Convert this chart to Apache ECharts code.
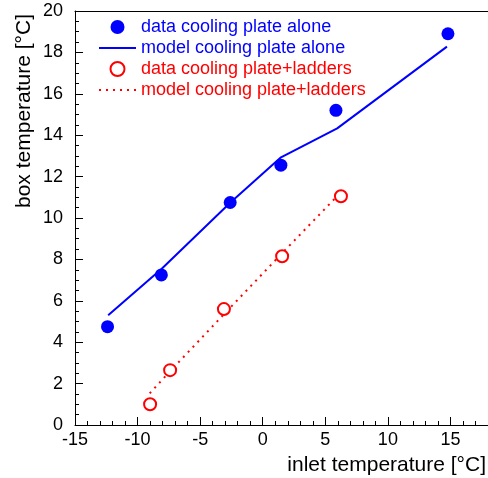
<!DOCTYPE html>
<html>
<head>
<meta charset="utf-8">
<style>
  html, body { margin: 0; padding: 0; background: #fff; }
  #chart { width: 488px; height: 478px; }
</style>
<script src="https://cdn.jsdelivr.net/npm/echarts@6/dist/echarts.min.js"></script>
</head>
<body>
<div id="chart"></div>
<script>
// Measured box temperature versus coolant inlet temperature
const plateAloneInlet = [-12.4, -8.1, -2.6, 1.45, 5.85, 14.8];
const plateAloneData  = [4.75, 7.25, 10.75, 12.55, 15.2, 18.9];
const plateAloneModelInlet = [-12.35, -8.07, -2.58, 1.46, 5.95, 14.72];
const plateAloneModel = [5.3, 7.55, 10.75, 12.93, 14.33, 18.28];

const laddersInlet = [-9.0, -7.4, -3.1, 1.55, 6.25];
const laddersData  = [1.0, 2.65, 5.6, 8.15, 11.05];
const laddersModelInlet = [-9.03, -7.4, -3.1, 1.55, 6.18];
const laddersModel = [1.53, 2.6, 5.35, 8.3, 11.2];

const seriesNames = [
  'data cooling plate alone',
  'model cooling plate alone',
  'data cooling plate+ladders',
  'model cooling plate+ladders'
];
const xTitle = 'inlet temperature [°C]';
const yTitle = 'box temperature [°C]';

const BLUE = '#0000ff';
const RED = '#ff0000';
const FONT = 'Liberation Sans, Arial, sans-serif';

const pairs = (xs, ys) => xs.map((x, i) => [x, ys[i]]);

const chart = echarts.init(document.getElementById('chart'), null, { renderer: 'canvas' });

chart.setOption({
  animation: false,
  backgroundColor: '#fff',
  grid: { left: 75, top: 11, right: -2, bottom: 53 },
  legend: {
    orient: 'vertical',
    left: 98,
    top: 18,
    padding: 0,
    itemWidth: 37,
    itemHeight: 14,
    itemGap: 3,
    textStyle: { fontFamily: FONT, fontSize: 18, lineHeight: 18 },
    data: [
      { name: seriesNames[0], textStyle: { color: BLUE } },
      // model entries show only the line sample
      { name: seriesNames[1], textStyle: { color: BLUE }, itemStyle: { opacity: 0 } },
      { name: seriesNames[2], textStyle: { color: RED } },
      { name: seriesNames[3], textStyle: { color: RED }, itemStyle: { opacity: 0 } }
    ]
  },
  xAxis: [
    {
      type: 'value',
      min: -15,
      max: 18,
      interval: 5,
      axisLine: { show: true, onZero: false, lineStyle: { color: '#000', width: 1 } },
      axisTick: { show: true, inside: true, length: 8, lineStyle: { color: '#000' } },
      minorTick: { show: true, splitNumber: 5, length: 4, lineStyle: { color: '#000' } },
      splitLine: { show: false },
      axisLabel: {
        margin: 6, color: '#000', fontFamily: FONT, fontSize: 18,
        showMaxLabel: false
      }
    },
    {
      type: 'value',
      position: 'top',
      min: -15,
      max: 18,
      axisLine: { show: true, onZero: false, lineStyle: { color: '#000', width: 1 } },
      axisTick: { show: false },
      axisLabel: { show: false },
      splitLine: { show: false }
    }
  ],
  yAxis: {
    type: 'value',
    min: 0,
    max: 20,
    interval: 2,
    axisLine: { show: true, onZero: false, lineStyle: { color: '#000', width: 1 } },
    axisTick: { show: true, inside: true, length: 8, lineStyle: { color: '#000' } },
    minorTick: { show: true, splitNumber: 4, length: 4, lineStyle: { color: '#000' } },
    splitLine: { show: false },
    axisLabel: { margin: 12, color: '#000', fontFamily: FONT, fontSize: 18 }
  },
  graphic: [
    {
      type: 'text',
      right: 2,
      top: 455,
      style: { text: xTitle, fill: '#000', font: '21px ' + FONT }
    },
    {
      type: 'text',
      x: 24,
      y: 14,
      rotation: Math.PI / 2,
      style: {
        text: yTitle, fill: '#000', font: '21px ' + FONT,
        align: 'right', verticalAlign: 'middle'
      }
    }
  ],
  series: [
    {
      name: seriesNames[0],
      type: 'scatter',
      symbol: 'circle',
      symbolSize: 13,
      itemStyle: { color: BLUE, opacity: 1 },
      data: pairs(plateAloneInlet, plateAloneData),
      z: 3
    },
    {
      name: seriesNames[1],
      type: 'line',
      symbol: 'none',
      lineStyle: { color: BLUE, width: 2 },
      itemStyle: { color: BLUE },
      data: pairs(plateAloneModelInlet, plateAloneModel),
      z: 2
    },
    {
      name: seriesNames[2],
      type: 'scatter',
      symbol: 'emptyCircle',
      symbolSize: 12,
      itemStyle: { color: RED, borderColor: RED, borderWidth: 1.6, opacity: 1 },
      data: pairs(laddersInlet, laddersData),
      z: 3
    },
    {
      name: seriesNames[3],
      type: 'line',
      symbol: 'none',
      lineStyle: { color: RED, width: 2, type: [2, 5] },
      itemStyle: { color: RED },
      data: pairs(laddersModelInlet, laddersModel),
      z: 2
    }
  ]
});
</script>
</body>
</html>
